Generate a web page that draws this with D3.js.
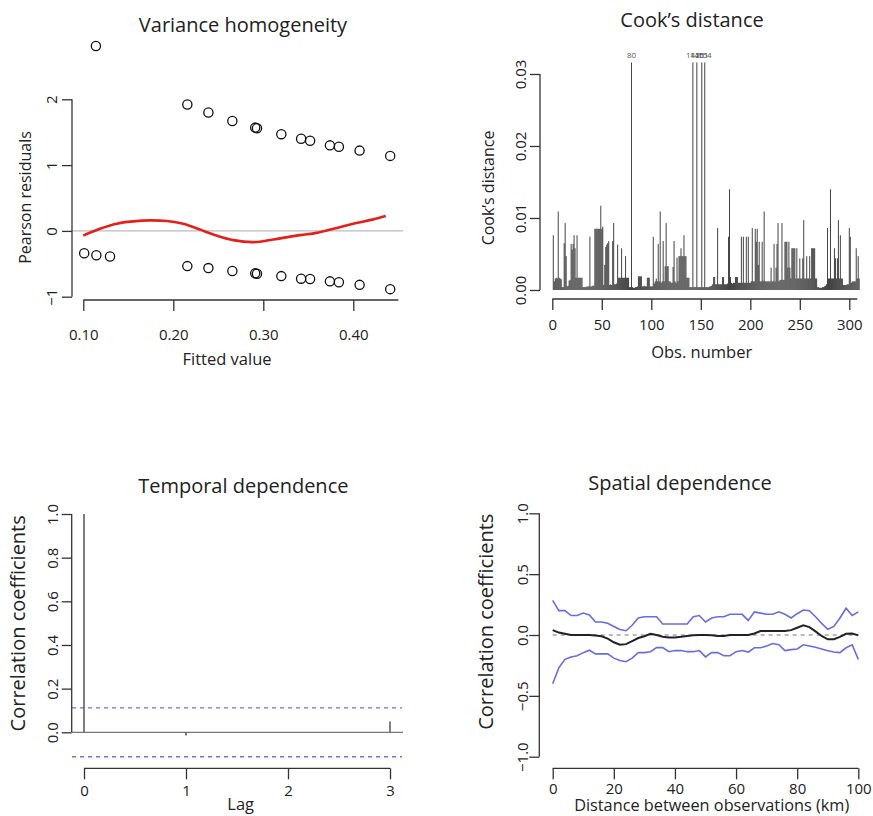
<!DOCTYPE html>
<html>
<head>
<meta charset="utf-8">
<script src="https://cdn.jsdelivr.net/npm/d3@7"></script>
<style>
  body { margin: 0; background: #fff; }
  svg { display: block; font-family: "Open Sans", sans-serif; }
</style>
</head>
<body>
<svg id="chart"></svg>
<script>
"use strict";

// ---------- data ----------

// panel 1: fitted values vs Pearson residuals
const fittedValues = [0.114, 0.2156, 0.239, 0.2656, 0.291, 0.293, 0.320, 0.342, 0.352, 0.374, 0.384, 0.407, 0.441,
                      0.101, 0.1145, 0.1297, 0.2156, 0.239, 0.2656, 0.291, 0.293, 0.320, 0.342, 0.352, 0.374, 0.384, 0.407, 0.441];
const pearsonResiduals = [2.81, 1.92, 1.80, 1.67, 1.57, 1.56, 1.47, 1.40, 1.37, 1.30, 1.28, 1.22, 1.14,
                          -0.34, -0.37, -0.39, -0.535, -0.565, -0.61, -0.645, -0.65, -0.687, -0.726, -0.73, -0.767, -0.78, -0.82, -0.885];
const smoothX = [0.100, 0.1185, 0.137, 0.1556, 0.174, 0.193, 0.211, 0.2296, 0.248, 0.2667, 0.289, 0.311, 0.341, 0.359, 0.378, 0.400, 0.422, 0.436];
const smoothY = [-0.07, 0.033, 0.11, 0.145, 0.16, 0.15, 0.11, 0.02, -0.07, -0.14, -0.17, -0.13, -0.064, -0.03, 0.033, 0.11, 0.175, 0.225];
const fittedTicks = [0.10, 0.20, 0.30, 0.40];
const residualTicks = [-1, 0, 1, 2];

// panel 2: Cook's distance, observation i+1
const cooksDistance = [
  0.0076, 0.0012, 0.0016, 0.0017, 0.0016, 0.0109, 0.0017, 0.0016, 0.0015, 0.0004,
  0.0004, 0.0065, 0.0093, 0.0047, 0.0005, 0.0006, 0.0013, 0.0014, 0.0064, 0.0056,
  0.0064, 0.0076, 0.0058, 0.0017, 0.0076, 0.0017, 0.0017, 0.0017, 0.0017, 0.0017,
  0.0004, 0.0004, 0.0004, 0.0004, 0.0005, 0.0005, 0.0005, 0.0074, 0.0005, 0.0005,
  0.0006, 0.0006, 0.0085, 0.0085, 0.0085, 0.0085, 0.0085, 0.0085, 0.0117, 0.0085,
  0.0088, 0.0007, 0.0035, 0.0060, 0.0063, 0.0065, 0.0068, 0.0007, 0.0008, 0.0007,
  0.0068, 0.0093, 0.0008, 0.0008, 0.0009, 0.0063, 0.0017, 0.0017, 0.0017, 0.0058,
  0.0017, 0.0017, 0.0017, 0.0047, 0.0017, 0.0017, 0.0017, 0.0004, 0.0004, 0.0316,
  0.0004, 0.0003, 0.0003, 0.0004, 0.0004, 0.0005, 0.0019, 0.0019, 0.0019, 0.0019,
  0.0005, 0.0005, 0.0006, 0.0005, 0.0005, 0.0017, 0.0017, 0.0017, 0.0005, 0.0005,
  0.0005, 0.0074, 0.0009, 0.0012, 0.0016, 0.0012, 0.0064, 0.0012, 0.0109, 0.0010,
  0.0012, 0.0068, 0.0012, 0.0033, 0.0093, 0.0033, 0.0033, 0.0012, 0.0012, 0.0010,
  0.0010, 0.0032, 0.0068, 0.0012, 0.0010, 0.0045, 0.0012, 0.0047, 0.0047, 0.0058,
  0.0047, 0.0047, 0.0076, 0.0047, 0.0047, 0.0017, 0.0017, 0.0017, 0.0004, 0.0004,
  0.0004, 0.0316, 0.0004, 0.0004, 0.0004, 0.0316, 0.0004, 0.0004, 0.0004, 0.0004,
  0.0316, 0.0004, 0.0004, 0.0316, 0.0004, 0.0004, 0.0004, 0.0004, 0.0005, 0.0005,
  0.0006, 0.0008, 0.0018, 0.0018, 0.0008, 0.0008, 0.0086, 0.0008, 0.0008, 0.0008,
  0.0008, 0.0018, 0.0018, 0.0008, 0.0008, 0.0008, 0.0009, 0.0074, 0.0140, 0.0018,
  0.0010, 0.0009, 0.0010, 0.0010, 0.0018, 0.0018, 0.0018, 0.0010, 0.0010, 0.0010,
  0.0074, 0.0010, 0.0074, 0.0010, 0.0010, 0.0074, 0.0010, 0.0074, 0.0010, 0.0010,
  0.0012, 0.0086, 0.0012, 0.0012, 0.0085, 0.0067, 0.0085, 0.0035, 0.0067, 0.0012,
  0.0012, 0.0067, 0.0013, 0.0109, 0.0012, 0.0012, 0.0012, 0.0012, 0.0012, 0.0012,
  0.0031, 0.0012, 0.0012, 0.0064, 0.0012, 0.0031, 0.0064, 0.0093, 0.0012, 0.0014,
  0.0014, 0.0093, 0.0014, 0.0014, 0.0067, 0.0067, 0.0067, 0.0031, 0.0067, 0.0031,
  0.0016, 0.0058, 0.0058, 0.0058, 0.0058, 0.0016, 0.0058, 0.0016, 0.0016, 0.0044,
  0.0016, 0.0016, 0.0044, 0.0097, 0.0016, 0.0016, 0.0047, 0.0016, 0.0016, 0.0047,
  0.0016, 0.0058, 0.0058, 0.0058, 0.0058, 0.0016, 0.0016, 0.0004, 0.0004, 0.0003,
  0.0003, 0.0003, 0.0004, 0.0004, 0.0005, 0.0006, 0.0008, 0.0086, 0.0016, 0.0016,
  0.0140, 0.0016, 0.0016, 0.0016, 0.0058, 0.0044, 0.0016, 0.0044, 0.0097, 0.0016,
  0.0076, 0.0016, 0.0016, 0.0007, 0.0007, 0.0007, 0.0007, 0.0008, 0.0008, 0.0086,
  0.0074, 0.0010, 0.0012, 0.0012, 0.0012, 0.0012, 0.0058, 0.0016, 0.0047, 0.0016
];
const obsTicks = [0, 50, 100, 150, 200, 250, 300];
const cookTicks = [0, 0.01, 0.02, 0.03];
const cookLabelCutoff = 0.03;

// panel 3: ACF of residuals
const lags = [0, 1, 2, 3];
const acfValues = [1.0, -0.015, 0.0, 0.05];
const acfBound = 0.112;
const acfTicks = [0, 0.2, 0.4, 0.6, 0.8, 1.0];

// panel 4: correlogram
const distances = [0, 2, 4, 6, 8, 10, 12, 14, 16, 18, 20, 22, 24, 26, 28, 30, 32, 34, 36, 38,
                   40, 42, 44, 46, 48, 50, 52, 54, 56, 58, 60, 62, 64, 66, 68, 70, 72, 74, 76, 78,
                   80, 82, 84, 86, 88, 90, 92, 94, 96, 98, 100];
const corrUpper = [0.285, 0.20, 0.20, 0.16, 0.16, 0.18, 0.165, 0.107, 0.107, 0.096,
                   0.07, 0.045, 0.035, 0.08, 0.14, 0.15, 0.15, 0.15, 0.09, 0.09,
                   0.09, 0.09, 0.09, 0.15, 0.16, 0.107, 0.14, 0.15, 0.15, 0.17,
                   0.17, 0.17, 0.12, 0.19, 0.18, 0.17, 0.17, 0.19, 0.17, 0.14,
                   0.175, 0.205, 0.20, 0.15, 0.096, 0.047, 0.07, 0.14, 0.22, 0.16, 0.19];
const corrMean = [0.04, 0.02, 0.01, 0.0, 0.0, 0.0, 0.0, -0.005, -0.01, -0.03,
                  -0.06, -0.08, -0.075, -0.05, -0.025, -0.01, 0.01, 0.0, -0.015, -0.02,
                  -0.02, -0.015, -0.008, -0.003, 0.0, 0.0, -0.003, -0.008, -0.008, 0.0,
                  0.0, 0.0, 0.0, 0.012, 0.033, 0.033, 0.033, 0.033, 0.033, 0.04,
                  0.06, 0.08, 0.065, 0.03, -0.008, -0.035, -0.035, -0.015, 0.01, 0.012, -0.003];
const corrLower = [-0.40, -0.27, -0.20, -0.18, -0.17, -0.145, -0.125, -0.155, -0.155, -0.155,
                   -0.19, -0.21, -0.22, -0.19, -0.145, -0.145, -0.137, -0.104, -0.104, -0.137,
                   -0.128, -0.128, -0.137, -0.137, -0.128, -0.18, -0.145, -0.145, -0.17, -0.17,
                   -0.137, -0.128, -0.14, -0.105, -0.105, -0.09, -0.07, -0.08, -0.128, -0.12,
                   -0.115, -0.08, -0.09, -0.1, -0.115, -0.13, -0.14, -0.145, -0.105, -0.08, -0.20];
const distTicks = [0, 20, 40, 60, 80, 100];
const corrTicks = [-1, -0.5, 0, 0.5, 1];

// ---------- setup ----------
const W = 873, H = 816;
const axisColor = "#333";
const textColor = "#222";
const minus = s => s.replace("-", "\u2212");

const svg = d3.select("#chart").attr("width", W).attr("height", H);
svg.append("rect").attr("width", W).attr("height", H).attr("fill", "#fff");

// R-like bottom axis: line from first tick (or given end), ticks down, labels below
function bottomAxis(scale, ticks, fmt, yPos, labelY, lineFrom, lineTo) {
  const g = svg.append("g")
    .attr("transform", `translate(0,${yPos})`)
    .call(d3.axisBottom(scale).tickValues(ticks).tickFormat(fmt).tickSize(11).tickSizeOuter(0));
  g.attr("font-family", null).attr("font-size", null);
  g.select(".domain").remove();
  g.append("line")
    .attr("x1", lineFrom).attr("x2", lineTo)
    .attr("stroke", axisColor).attr("stroke-width", 1.3);
  g.selectAll(".tick line").attr("stroke", axisColor).attr("stroke-width", 1.3);
  g.selectAll(".tick text")
    .attr("y", labelY).attr("dy", 0)
    .attr("fill", textColor).style("font-size", "15px");
  return g;
}

// R-like left axis with labels rotated parallel to the axis
function leftAxis(scale, ticks, fmt, xPos, labelGap) {
  const g = svg.append("g")
    .attr("transform", `translate(${xPos},0)`)
    .call(d3.axisLeft(scale).tickValues(ticks).tickFormat(fmt).tickSize(10).tickSizeOuter(0));
  g.attr("font-family", null).attr("font-size", null);
  g.select(".domain").remove();
  g.append("line")
    .attr("y1", scale(ticks[0])).attr("y2", scale(ticks[ticks.length - 1]))
    .attr("stroke", axisColor).attr("stroke-width", 1.3);
  g.selectAll(".tick line").attr("stroke", axisColor).attr("stroke-width", 1.3);
  g.selectAll(".tick text")
    .attr("x", 0).attr("y", -labelGap).attr("dy", 0)
    .attr("text-anchor", "middle")
    .attr("transform", "rotate(-90)")
    .attr("fill", textColor).style("font-size", "15px");
  return g;
}

function title(txt, x, y) {
  svg.append("text").attr("x", x).attr("y", y)
    .attr("text-anchor", "middle").attr("fill", textColor)
    .style("font-size", "20px").text(txt);
}

function xLabel(txt, x, y, size) {
  svg.append("text").attr("x", x).attr("y", y)
    .attr("text-anchor", "middle").attr("fill", textColor)
    .style("font-size", size + "px").text(txt);
}

function yLabel(txt, x, y, size) {
  svg.append("text").attr("transform", `translate(${x},${y}) rotate(-90)`)
    .attr("text-anchor", "middle").attr("fill", textColor)
    .style("font-size", size + "px").text(txt);
}

// ---------- panel 1: Variance homogeneity ----------
const x1 = d3.scaleLinear().domain([0.1, 0.4]).range([83.3, 353.3]);
const y1 = d3.scaleLinear().domain([-1, 2]).range([296.7, 99.3]);

svg.append("line")
  .attr("x1", 72).attr("x2", 403).attr("y1", y1(0)).attr("y2", y1(0))
  .attr("stroke", "#bbb").attr("stroke-width", 1.2);

svg.append("g").selectAll("circle")
  .data(fittedValues)
  .join("circle")
  .attr("cx", d => x1(d))
  .attr("cy", (d, i) => y1(pearsonResiduals[i]))
  .attr("r", 4.6)
  .attr("fill", "none").attr("stroke", "#111").attr("stroke-width", 1.3);

svg.append("path")
  .datum(smoothX)
  .attr("d", d3.line().x(d => x1(d)).y((d, i) => y1(smoothY[i])).curve(d3.curveCatmullRom))
  .attr("fill", "none").attr("stroke", "#e3201c").attr("stroke-width", 2.6);

bottomAxis(x1, fittedTicks, d3.format(".2f"), 300, 40, x1(0.1), x1(0.45));
leftAxis(y1, residualTicks, d => minus(String(d)), 72, 15.5);
title("Variance homogeneity", 243, 32);
xLabel("Fitted value", 227, 365, 16.5);
yLabel("Pearson residuals", 31, 197.5, 16);

// ---------- panel 2: Cook's distance ----------
const x2 = d3.scaleLinear().domain([0, 300]).range([552.3, 849.3]);
const y2 = d3.scaleLinear().domain([0, 0.03]).range([290, 74]);

svg.append("g").selectAll("line")
  .data(cooksDistance)
  .join("line")
  .attr("x1", (d, i) => x2(i + 1)).attr("x2", (d, i) => x2(i + 1))
  .attr("y1", y2(0)).attr("y2", d => y2(d))
  .attr("stroke", "#222").attr("stroke-width", 0.85);

// labels of the largest values overlap in the original too
svg.append("g").selectAll("text")
  .data(cooksDistance.map((d, i) => ({ obs: i + 1, d })).filter(o => o.d > cookLabelCutoff))
  .join("text")
  .attr("x", o => x2(o.obs)).attr("y", 58)
  .attr("text-anchor", "middle").attr("fill", "#555")
  .style("font-size", "8px")
  .text(o => o.obs);

bottomAxis(x2, obsTicks, d3.format("d"), 299, 31, x2(0), x2(308));
leftAxis(y2, cookTicks, d3.format(".2f"), 540, 14);
title("Cook\u2019s distance", 692, 27);
xLabel("Obs. number", 701.7, 358, 16.5);
yLabel("Cook\u2019s distance", 494, 188, 16);

// ---------- panel 3: Temporal dependence ----------
const x3 = d3.scaleLinear().domain([0, 3]).range([84, 390]);
const y3 = d3.scaleLinear().domain([0, 1]).range([732.3, 514]);

svg.append("line")
  .attr("x1", 72).attr("x2", 403).attr("y1", y3(0)).attr("y2", y3(0))
  .attr("stroke", "#777").attr("stroke-width", 1.2);

svg.append("g").selectAll("line")
  .data([acfBound, -acfBound])
  .join("line")
  .attr("x1", 72).attr("x2", 402)
  .attr("y1", d => y3(d)).attr("y2", d => y3(d))
  .attr("stroke", "#6f6fe6").attr("stroke-width", 1.3)
  .attr("stroke-dasharray", "4,4");

svg.append("g").selectAll("line")
  .data(lags)
  .join("line")
  .attr("x1", d => x3(d)).attr("x2", d => x3(d))
  .attr("y1", y3(0)).attr("y2", (d, i) => y3(acfValues[i]))
  .attr("stroke", "#555").attr("stroke-width", 1.5);

bottomAxis(x3, lags, d3.format("d"), 768.3, 27.7, x3(0), x3(3));
leftAxis(y3, acfTicks, d3.format(".1f"), 71.7, 13.4);
title("Temporal dependence", 243.3, 493);
xLabel("Lag", 240.7, 810, 16.5);
yLabel("Correlation coefficients", 25, 623.3, 20);

// ---------- panel 4: Spatial dependence ----------
const x4 = d3.scaleLinear().domain([0, 100]).range([552.7, 858.3]);
const y4 = d3.scaleLinear().domain([-1, 1]).range([756.7, 513.3]);

svg.append("line")
  .attr("x1", x4(0)).attr("x2", x4(100)).attr("y1", y4(0)).attr("y2", y4(0))
  .attr("stroke", "#777").attr("stroke-width", 1.2)
  .attr("stroke-dasharray", "4,4");

const corrLine = vals => d3.line().x(d => x4(d)).y((d, i) => y4(vals[i]));

svg.append("path").datum(distances)
  .attr("d", corrLine(corrUpper))
  .attr("fill", "none").attr("stroke", "#6b6be0").attr("stroke-width", 1.6);
svg.append("path").datum(distances)
  .attr("d", corrLine(corrLower))
  .attr("fill", "none").attr("stroke", "#6b6be0").attr("stroke-width", 1.6);
svg.append("path").datum(distances)
  .attr("d", corrLine(corrMean))
  .attr("fill", "none").attr("stroke", "#222").attr("stroke-width", 2);

bottomAxis(x4, distTicks, d3.format("d"), 768.3, 26, x4(0), x4(100));
leftAxis(y4, corrTicks, d => minus(d3.format(".1f")(d)), 539.3, 11);
title("Spatial dependence", 680, 490);
xLabel("Distance between observations (km)", 711.7, 810.5, 16.3);
yLabel("Correlation coefficients", 492.5, 621.7, 20);
</script>
</body>
</html>
